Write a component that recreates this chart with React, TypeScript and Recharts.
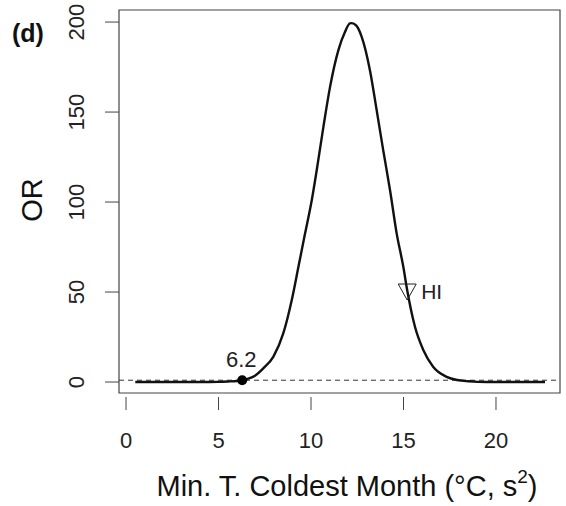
import {
  ComposedChart,
  Line,
  Scatter,
  XAxis,
  YAxis,
  ReferenceLine,
  ReferenceArea,
} from "recharts"

// curve
const tempX = [
  0.5, 1, 2, 3, 4, 5, 5.5, 6, 6.28, 6.97, 7.42, 7.96, 8.5, 8.96, 9.32, 9.68,
  10.04, 10.31, 10.67, 11.03, 11.48, 11.84, 12.1, 12.2, 12.45, 12.74, 13.19,
  13.55, 13.9, 14.27, 14.63, 14.99, 15.2, 15.62, 16.07, 16.6, 17.33, 17.9, 18.5,
  19, 20, 21, 22, 22.65,
]
const orValues = [
  0, 0, 0, 0, 0, 0.1, 0.3, 0.6, 1.1, 3.5, 7.6, 14, 27, 45.6, 64, 82.6, 101,
  117.8, 141.8, 164, 184.4, 194.6, 199.3, 199.4, 198, 191.8, 173, 151, 129,
  106.7, 82.6, 64, 51, 30.7, 17.8, 8.5, 2.9, 1.1, 0.4, 0.1, 0, 0, 0, 0,
]

const xTicks = [0, 5, 10, 15, 20]
const yTicks = [0, 50, 100, 150, 200]

const thresholdPoint = [{ x: 6.28, y: 1, label: "6.2" }]
const hiPoint = [{ x: 15.2, y: 50, label: "HI" }]
const refLineY = 1

const X_DOMAIN: [number, number] = [-0.38, 23.46]
const Y_DOMAIN: [number, number] = [-6.1, 206.7]

const FONT = "'Liberation Sans', Arial, sans-serif"
const AXIS_COLOR = "#444"

const chartData = tempX.map((x, i) => ({ x, y: orValues[i] }))

function XTick(props: any) {
  const { x, y, payload } = props
  return (
    <g>
      <line x1={x} x2={x} y1={y + 4} y2={y + 17} stroke={AXIS_COLOR} />
      <text
        x={x}
        y={y + 55}
        textAnchor="middle"
        fontSize={22}
        fontFamily={FONT}
        fill="#222"
      >
        {payload.value}
      </text>
    </g>
  )
}

function YTick(props: any) {
  const { x, y, payload } = props
  return (
    <g>
      <line x1={x - 14} x2={x} y1={y} y2={y} stroke={AXIS_COLOR} />
      <text
        x={x - 35}
        y={y}
        transform={`rotate(-90 ${x - 35} ${y})`}
        textAnchor="middle"
        fontSize={22}
        fontFamily={FONT}
        fill="#222"
      >
        {payload.value}
      </text>
    </g>
  )
}

function DotShape(props: any) {
  const { cx, cy, payload } = props
  return (
    <g>
      <circle cx={cx} cy={cy} r={5} fill="#000" />
      <text
        x={cx - 1}
        y={cy - 13}
        textAnchor="middle"
        fontSize={22}
        fontFamily={FONT}
        fill="#222"
      >
        {payload.label}
      </text>
    </g>
  )
}

function TriangleShape(props: any) {
  const { cx, cy, payload } = props
  return (
    <g>
      <polygon
        points={`${cx - 9},${cy - 8} ${cx + 9},${cy - 8} ${cx},${cy + 8}`}
        fill="none"
        stroke="#222"
        strokeWidth={1}
      />
      <text
        x={cx + 14}
        y={cy + 7}
        fontSize={21}
        fontFamily={FONT}
        fill="#222"
      >
        {payload.label}
      </text>
    </g>
  )
}

export default function App() {
  return (
    <div style={{ position: "absolute", left: 0, top: 0, width: 566, height: 506, background: "#fff" }}>
      <ComposedChart
        width={566}
        height={506}
        data={chartData}
        margin={{ top: 10, right: 6, bottom: 0, left: 0 }}
      >
        <XAxis
          dataKey="x"
          type="number"
          domain={X_DOMAIN}
          ticks={xTicks}
          allowDataOverflow
          height={113}
          axisLine={false}
          tickLine={false}
          tickSize={0}
          tickMargin={0}
          tick={<XTick />}
        />
        <YAxis
          type="number"
          domain={Y_DOMAIN}
          ticks={yTicks}
          allowDataOverflow
          width={119}
          axisLine={false}
          tickLine={false}
          tickSize={0}
          tickMargin={0}
          tick={<YTick />}
        />
        <ReferenceArea
          x1={X_DOMAIN[0]}
          x2={X_DOMAIN[1]}
          y1={Y_DOMAIN[0]}
          y2={Y_DOMAIN[1]}
          fill="none"
          stroke={AXIS_COLOR}
          strokeWidth={1.2}
        />
        <ReferenceLine
          y={refLineY}
          stroke="#333"
          strokeDasharray="5 4"
          strokeWidth={1}
        />
        <Line
          dataKey="y"
          type="monotone"
          stroke="#111"
          strokeWidth={2.4}
          dot={false}
          isAnimationActive={false}
        />
        <Scatter
          data={thresholdPoint}
          dataKey="y"
          shape={<DotShape />}
          isAnimationActive={false}
        />
        <Scatter
          data={hiPoint}
          dataKey="y"
          shape={<TriangleShape />}
          isAnimationActive={false}
        />
      </ComposedChart>
      <svg
        width={566}
        height={506}
        style={{ position: "absolute", left: 0, top: 0, pointerEvents: "none" }}
      >
        <text x={12} y={42} fontSize={25} fontWeight="bold" fontFamily={FONT} fill="#111">
          (d)
        </text>
        <text
          x={42}
          y={200}
          transform="rotate(-90 42 200)"
          textAnchor="middle"
          fontSize={29}
          fontFamily={FONT}
          fill="#111"
        >
          OR
        </text>
        <text x={347} y={496} textAnchor="middle" fontSize={29} fontFamily={FONT} fill="#111">
          Min. T. Coldest Month (°C, s
          <tspan fontSize={19} dy={-13}>2</tspan>
          <tspan dy={13}>)</tspan>
        </text>
      </svg>
    </div>
  )
}
